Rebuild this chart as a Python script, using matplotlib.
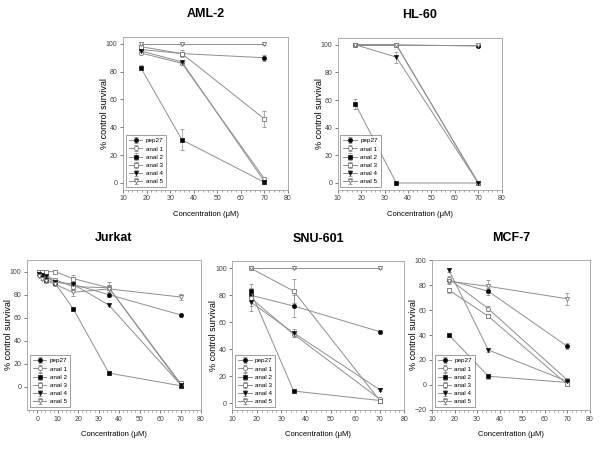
import matplotlib
matplotlib.use("Agg")
from matplotlib import pyplot as plt
from matplotlib.ticker import MultipleLocator

plt.rcParams["font.family"] = ["Liberation Sans", "DejaVu Sans"]

series_names = ["pep27", "anal 1", "anal 2", "anal 3", "anal 4", "anal 5"]
markers = ["o", "o", "s", "s", "v", "v"]
filled = [True, False, True, False, True, False]

# AML-2
aml2_x = [17.5, 35, 70]
aml2_y = [[96, 93, 90], [93.5, 86, 3], [83, 31, 0.5], [98, 93, 46], [95, 87, 1], [100, 100, 100]]
aml2_err = [[1.5, 1.5, 2], [1, 1, 1], [2, 7.5, 1], [1, 2.5, 5.5], [1, 1, 1], [0.5, 0.5, 0.5]]

# HL-60
hl60_x = [17.5, 35, 70]
hl60_y = [[100, 100, 99], [100, 100, 0], [57, 0, 0], [100, 100, 0], [100, 91, 0], [100, 100, 100]]
hl60_err = [[0.5, 0.5, 0.5], [0.5, 0.5, 0.5], [3.5, 0.5, 0.5], [0.5, 0.5, 0.5], [0.5, 4, 0.5], [0.5, 0.5, 0.5]]

# Jurkat
jurkat_x = [1.1, 2.2, 4.4, 8.75, 17.5, 35, 70]
jurkat_y = [[98, 97, 95, 91, 89, 80, 62.5],
            [99, 98, 96, 93, 87, 86, 2],
            [99, 97, 93, 90, 68, 12, 1],
            [100, 100, 100, 100, 94, 86, 3],
            [98, 97, 96, 91, 89, 71, 2],
            [96, 94, 92, 89, 82, 85, 78]]
jurkat_err = [[1, 1, 1, 1, 1.5, 2, 1],
              [1, 1, 1, 1.5, 2, 2, 1],
              [1, 1, 1, 1, 1, 2, 1],
              [1, 1, 1, 1, 3, 5, 1],
              [1, 1, 1, 1, 1.5, 1, 1],
              [1, 1.5, 2, 1.5, 3, 3, 3]]

# SNU-601
snu601_x = [17.5, 35, 70]
snu601_y = [[80, 72, 53], [78, 51, 3], [83, 9, 2], [100, 83, 2], [75, 52, 10], [100, 100, 100]]
snu601_err = [[8, 8, 1], [2, 2, 1], [2, 1, 1], [0.5, 9, 1], [7, 3, 1], [0.5, 0.5, 0.5]]

# MCF-7
mcf7_x = [17.5, 35, 70]
mcf7_y = [[84, 75, 31], [85, 61, 4], [40, 7, 2], [76, 55, 0.5], [92, 28, 3], [83, 79, 69]]
mcf7_err = [[2, 3, 2.5], [2, 2, 1], [1.5, 2, 1], [2, 1.5, 1], [1.5, 1.5, 1], [2, 5, 5]]


def draw_panel(ax, title, x, ys, errs, xlim, ylim, xticks, yticks):
  for name, y, e, m, f in zip(series_names, ys, errs, markers, filled):
    ax.errorbar(x, y, yerr=e, color="#8f8f8f", lw=0.7, elinewidth=0.5, capsize=1.5,
                marker=m, ms=3, mec="#222222" if f else "#777777",
                mfc="black" if f else "white", mew=0.6, label=name)
  ax.set_xticks(xticks)
  ax.set_yticks(yticks)
  ax.xaxis.set_minor_locator(MultipleLocator(2))
  ax.set_xlim(*xlim)
  ax.set_ylim(*ylim)
  ax.tick_params(axis="both", which="major", labelsize=5, length=2.5, width=0.5,
                 direction="out", colors="#444444", pad=1.5)
  ax.tick_params(axis="x", which="minor", length=1.2, width=0.4, direction="out", colors="#666666")
  for s in ax.spines.values():
    s.set_color("#a0a0a0")
    s.set_linewidth(0.6)
  ax.set_title(title, fontsize=9, fontweight="bold", pad=14)
  ax.set_xlabel("Concentration (\u03bcM)", fontsize=5.5, labelpad=6)
  ax.set_ylabel("% control survival", fontsize=6.5)
  # keep the y label a fixed number of pixels left of the axis
  width_px = ax.get_position().width * 600
  ax.yaxis.set_label_coords(-14.0 / width_px, 0.5)
  leg = ax.legend(loc="lower left", fontsize=4.5, frameon=True, fancybox=False,
                  handlelength=2.2, borderpad=0.5, labelspacing=0.45, handletextpad=0.5,
                  borderaxespad=0.4)
  leg.get_frame().set_edgecolor("#555555")
  leg.get_frame().set_linewidth(0.5)


fig = plt.figure(figsize=(6, 4.5), dpi=100)
ax1 = fig.add_axes([0.205, 0.578, 0.275, 0.340])
ax2 = fig.add_axes([0.563, 0.578, 0.273, 0.338])
ax3 = fig.add_axes([0.045, 0.089, 0.290, 0.333])
ax4 = fig.add_axes([0.387, 0.089, 0.287, 0.330])
ax5 = fig.add_axes([0.720, 0.089, 0.263, 0.333])

draw_panel(ax1, "AML-2", aml2_x, aml2_y, aml2_err, (10, 80), (-5, 105),
           range(10, 81, 10), range(0, 101, 20))
draw_panel(ax2, "HL-60", hl60_x, hl60_y, hl60_err, (10, 80), (-5, 105),
           range(10, 81, 10), range(0, 101, 20))
draw_panel(ax3, "Jurkat", jurkat_x, jurkat_y, jurkat_err, (-5, 80), (-20, 110),
           range(0, 81, 10), range(0, 101, 20))
draw_panel(ax4, "SNU-601", snu601_x, snu601_y, snu601_err, (10, 80), (-5, 105),
           range(10, 81, 10), range(0, 101, 20))
draw_panel(ax5, "MCF-7", mcf7_x, mcf7_y, mcf7_err, (10, 80), (-20, 100),
           range(10, 81, 10), range(-20, 101, 20))

fig.savefig("out.png", dpi=100)
